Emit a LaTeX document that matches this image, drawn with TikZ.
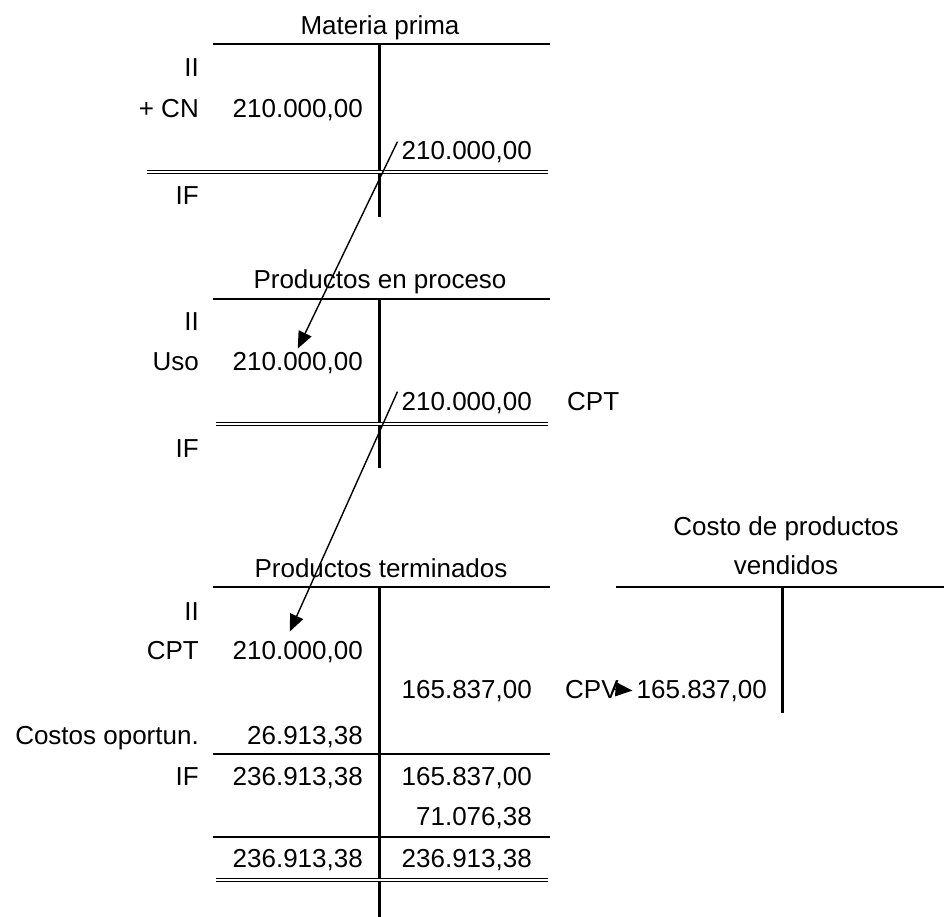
\documentclass[tikz,border=0pt]{standalone}
\usepackage{fontspec}
\setmainfont{Liberation Sans}
\usetikzlibrary{arrows.meta}

\begin{document}
\begin{tikzpicture}[x=1pt, y=-1pt, every node/.style={font=\fontsize{26}{39}\selectfont, inner sep=0pt}]
  \tikzstyle{lbl} = [anchor=base east]
  \tikzstyle{amt} = [anchor=base east]
  \tikzstyle{ttl} = [anchor=base]
  \tikzstyle{tline} = [line width=2pt]
  \tikzstyle{tbar} = [line width=3pt]
  \tikzstyle{dline} = [double, line width=1.4pt, double distance=1.6pt]
  \tikzstyle{arrow} = [line width=1.4pt, -{Triangle[length=17pt,width=14pt]}]
  \useasboundingbox (0,0) rectangle (944,917);

  % Materia prima
  \node[ttl] (mptitle) at (380,35) {Materia prima};
  \node[lbl] (mpii) at (199,77) {II};
  \node[lbl] (mpcn) at (199,118) {+ CN};
  \node[amt] (mpdb) at (363,118) {210.000,00};
  \node[amt] (mpcr) at (532,160) {210.000,00};
  \node[lbl] (mpif) at (199,205) {IF};
  \draw[tline] (213,44) -- (550,44);
  \draw[tbar] (379,44) -- (379,217);
  \draw[dline] (147,172) -- (548,172);

  % Productos en proceso
  \node[ttl] (pptitle) at (380,288) {Productos en proceso};
  \node[lbl] (ppii) at (199,330) {II};
  \node[lbl] (ppuso) at (199,370) {Uso};
  \node[amt] (ppdb) at (363,370) {210.000,00};
  \node[amt] (ppcr) at (532,410) {210.000,00};
  \node[anchor=base west] (ppcpt) at (567,410) {CPT};
  \node[lbl] (ppif) at (199,457) {IF};
  \draw[tline] (213,299) -- (550,299);
  \draw[tbar] (379,299) -- (379,468);
  \draw[dline] (216,424) -- (548,424);

  % Productos terminados
  \node[ttl] (pttitle) at (381,577) {Productos terminados};
  \node[lbl] (ptii) at (199,620) {II};
  \node[lbl] (ptcpt) at (199,659) {CPT};
  \node[amt] (ptdb) at (363,659) {210.000,00};
  \node[amt] (ptcr) at (532,698) {165.837,00};
  \node[anchor=base west] (ptcpv) at (565,698) {CPV};
  \node[lbl] (ptco) at (199,744) {Costos oportun.};
  \node[amt] (ptcoamt) at (363,744) {26.913,38};
  \node[lbl] (ptif) at (199,785) {IF};
  \node[amt] (ptifamt) at (363,785) {236.913,38};
  \node[amt] (ptcrcpv) at (532,785) {165.837,00};
  \node[amt] (ptsaldo) at (532,825) {71.076,38};
  \node[amt] (pttotdb) at (363,867) {236.913,38};
  \node[amt] (pttotcr) at (532,867) {236.913,38};
  \draw[tline] (213,587) -- (550,587);
  \draw[tbar] (379,587) -- (379,917);
  \draw[tline] (213,754) -- (550,754);
  \draw[tline] (213,837) -- (550,837);
  \draw[dline] (216,880) -- (548,880);

  % Costo de productos vendidos
  \node[ttl, align=center] (cpvtitle) at (786,574) {Costo de productos\\vendidos};
  \node[amt] (cpvdb) at (767,698) {165.837,00};
  \draw[tline] (616,587) -- (944,587);
  \draw[tbar] (782,587) -- (782,713);

  \draw[arrow] ([xshift=-4pt]mpcr.north west) -- ([yshift=3pt]ppdb.north);
  \draw[arrow] ([xshift=-4pt]ppcr.north west) -- ([shift={(-8pt,9pt)}]ptdb.north);
  \draw[arrow] ([xshift=-6pt]ptcpv.east) -- ([xshift=-4pt]cpvdb.west);
\end{tikzpicture}
\end{document}
